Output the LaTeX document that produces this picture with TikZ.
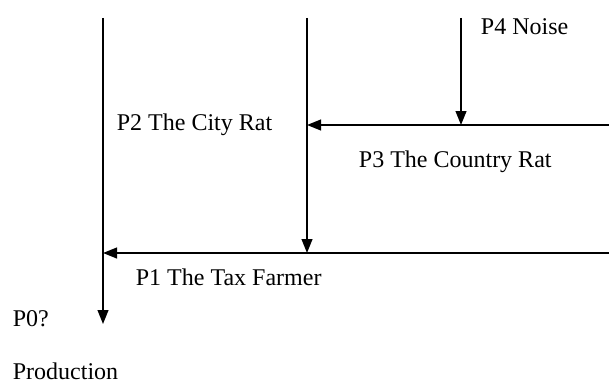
\documentclass[tikz,border=0pt]{standalone}
\usepackage{fontspec}
\setmainfont{Liberation Serif}
\usetikzlibrary{arrows.meta}

\begin{document}
\begin{tikzpicture}[x=0.5pt,y=-0.5pt,line width=0.9pt,
  flow/.style={-{Triangle[length=7pt,width=5.4pt]}},
  lbl/.style={anchor=west,inner sep=0pt,font=\fontsize{12}{14}\selectfont}]
 \useasboundingbox (0,0) rectangle (609,385);

 \coordinate (p0top) at (103,18);
 \coordinate (p0end) at (103,324);
 \coordinate (p2top) at (307,18);
 \coordinate (p2end) at (307,253);
 \coordinate (p4top) at (461,18);
 \coordinate (p4end) at (461,125);

 \coordinate (r1) at (609,253);
 \coordinate (m1) at (103,253);
 \coordinate (r3) at (609,125);
 \coordinate (m3) at (307,125);


\draw[flow] (p0top)--(p0end);
\draw[flow] (p2top)--(p2end);
\draw[flow] (p4top)--(p4end);
\draw[flow] (r1)--(m1);
\draw[flow] (r3)--(m3);


\node [lbl] (n4) at (480,27) {P4 Noise};
\node [lbl] (n2) at (116,125) {P2 The City Rat};
\node [lbl] (n3) at (358,162) {P3 The Country Rat};
\node [lbl] (n1) at (135,277) {P1 The Tax Farmer};
\node [lbl] (n0) at (12,319) {P0?};
\node [lbl] (np) at (12,371) {Production};

\end{tikzpicture}
\end{document}
